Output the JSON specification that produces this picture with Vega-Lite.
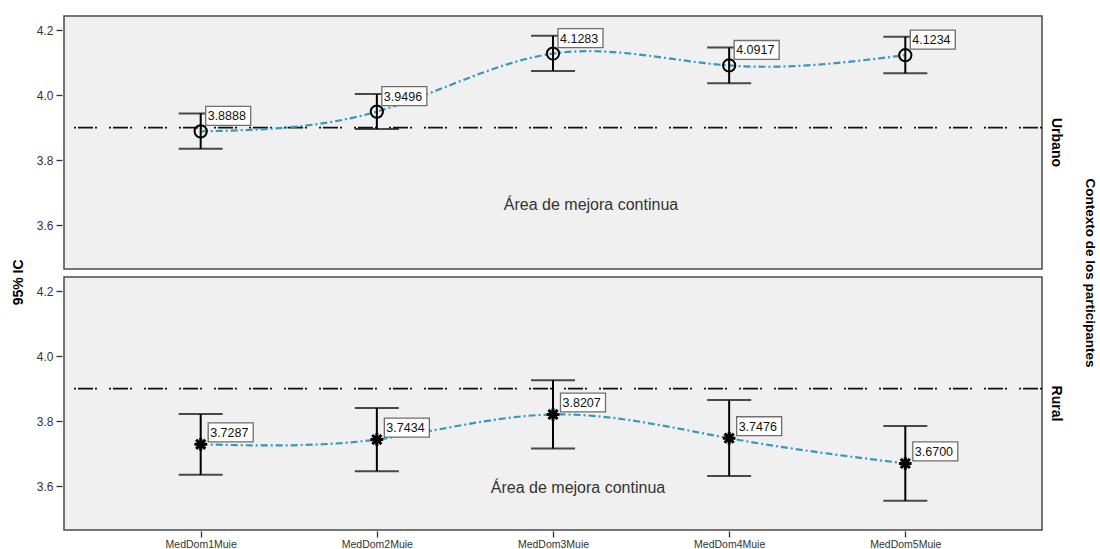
{
  "$schema": "https://vega.github.io/schema/vega-lite/v6.json",
  "padding": {"left": 12, "top": 15, "right": 0, "bottom": 0},
  "title": {"text": "95% IC", "orient": "left", "anchor": "middle", "fontSize": 14, "font": "Liberation Sans", "fontWeight": "bold", "color": "#000", "offset": 10},
  "data": {"values": [
    {"kind": "pt", "ctx": "Urbano", "cat": "MedDom1Muie", "mean": 3.8888, "lo": 3.835, "hi": 3.944, "lab": "3.8888"},
    {"kind": "pt", "ctx": "Urbano", "cat": "MedDom2Muie", "mean": 3.9496, "lo": 3.896, "hi": 4.004, "lab": "3.9496"},
    {"kind": "pt", "ctx": "Urbano", "cat": "MedDom3Muie", "mean": 4.1283, "lo": 4.075, "hi": 4.183, "lab": "4.1283"},
    {"kind": "pt", "ctx": "Urbano", "cat": "MedDom4Muie", "mean": 4.0917, "lo": 4.037, "hi": 4.147, "lab": "4.0917"},
    {"kind": "pt", "ctx": "Urbano", "cat": "MedDom5Muie", "mean": 4.1234, "lo": 4.068, "hi": 4.180, "lab": "4.1234"},
    {"kind": "pt", "ctx": "Rural", "cat": "MedDom1Muie", "mean": 3.7287, "lo": 3.635, "hi": 3.822, "lab": "3.7287"},
    {"kind": "pt", "ctx": "Rural", "cat": "MedDom2Muie", "mean": 3.7434, "lo": 3.646, "hi": 3.841, "lab": "3.7434"},
    {"kind": "pt", "ctx": "Rural", "cat": "MedDom3Muie", "mean": 3.8207, "lo": 3.716, "hi": 3.926, "lab": "3.8207"},
    {"kind": "pt", "ctx": "Rural", "cat": "MedDom4Muie", "mean": 3.7476, "lo": 3.631, "hi": 3.865, "lab": "3.7476"},
    {"kind": "pt", "ctx": "Rural", "cat": "MedDom5Muie", "mean": 3.6700, "lo": 3.555, "hi": 3.785, "lab": "3.6700"},
    {"kind": "ref", "ctx": "Urbano", "ref": 3.9},
    {"kind": "ref", "ctx": "Rural", "ref": 3.9},
    {"kind": "txt", "ctx": "Urbano", "cat": "MedDom3Muie", "ty": 3.663, "note": "Área de mejora continua"},
    {"kind": "txt", "ctx": "Rural", "cat": "MedDom3Muie", "ty": 3.594, "note": "Área de mejora continua"}
  ]},
  "facet": {"row": {"field": "ctx", "type": "nominal", "sort": ["Urbano", "Rural"], "title": "Contexto de los participantes",
    "header": {"labelOrient": "right", "titleOrient": "right", "labelAngle": 90, "titleAngle": 90, "labelFontSize": 14, "labelFontWeight": "bold", "labelFont": "Liberation Sans", "labelColor": "#000", "titleFontSize": 13.5, "titleFontWeight": "bold", "titleFont": "Liberation Sans", "titleColor": "#000", "labelPadding": 5, "titlePadding": 10}}},
  "spacing": 6,
  "spec": {
    "width": 978,
    "height": 253,
    "encoding": {
      "x": {"field": "cat", "type": "ordinal", "scale": {"type": "point", "padding": 0.776, "domain": ["MedDom1Muie", "MedDom2Muie", "MedDom3Muie", "MedDom4Muie", "MedDom5Muie"]}}
    },
    "layer": [
      {"transform": [{"filter": "datum.kind === 'ref'"}],
       "mark": {"type": "rule", "color": "#111", "strokeWidth": 1.8, "strokeDash": [2, 2, 15, 2, 2, 12]},
       "encoding": {"x": null, "y": {"field": "ref", "type": "quantitative", "scale": {"domain": [3.465, 4.244], "nice": false, "zero": false}, "axis": {"values": [3.6, 3.8, 4.0, 4.2], "format": ".1f"}}}},
      {"transform": [{"filter": "datum.kind === 'pt'"}],
       "mark": {"type": "line", "interpolate": "natural", "color": "#3399bf", "strokeWidth": 2.2, "strokeDash": [7, 3, 2, 3]},
       "encoding": {
         "y": {"field": "mean", "type": "quantitative", "scale": {"domain": [3.465, 4.244], "nice": false, "zero": false}, "axis": {"values": [3.6, 3.8, 4.0, 4.2], "format": ".1f"}}}},
      {"transform": [{"filter": "datum.kind === 'pt'"}],
       "mark": {"type": "rule", "color": "#000", "strokeWidth": 2},
       "encoding": {
         "y": {"field": "lo", "type": "quantitative", "scale": {"domain": [3.465, 4.244], "nice": false, "zero": false}},
         "y2": {"field": "hi"}}},
      {"transform": [{"filter": "datum.kind === 'pt'"}],
       "mark": {"type": "tick", "color": "#000", "size": 44, "thickness": 2, "orient": "horizontal"},
       "encoding": {
         "y": {"field": "lo", "type": "quantitative", "scale": {"domain": [3.465, 4.244], "nice": false, "zero": false}}}},
      {"transform": [{"filter": "datum.kind === 'pt'"}],
       "mark": {"type": "tick", "color": "#000", "size": 44, "thickness": 2, "orient": "horizontal"},
       "encoding": {
         "y": {"field": "hi", "type": "quantitative", "scale": {"domain": [3.465, 4.244], "nice": false, "zero": false}}}},
      {"transform": [{"filter": "datum.kind === 'pt' && datum.ctx === 'Urbano'"}],
       "mark": {"type": "point", "shape": "circle", "filled": false, "color": "#000", "strokeWidth": 2, "size": 150, "opacity": 1},
       "encoding": {
         "y": {"field": "mean", "type": "quantitative", "scale": {"domain": [3.465, 4.244], "nice": false, "zero": false}}}},
      {"transform": [{"filter": "datum.kind === 'pt' && datum.ctx === 'Rural'"}],
       "mark": {"type": "point", "shape": "M-1,0L1,0M0,-1L0,1M-0.72,-0.72L0.72,0.72M-0.72,0.72L0.72,-0.72", "filled": false, "color": "#000", "strokeWidth": 3, "size": 160, "opacity": 1},
       "encoding": {
         "y": {"field": "mean", "type": "quantitative", "scale": {"domain": [3.465, 4.244], "nice": false, "zero": false}}}},
      {"transform": [{"filter": "datum.kind === 'pt' && datum.ctx === 'Urbano'"}],
       "mark": {"type": "point", "shape": "M-1,-0.42L1,-0.42L1,0.42L-1,0.42Z", "filled": true, "fill": "#fff", "stroke": "#6e6e6e", "strokeWidth": 1.3, "size": 2025, "opacity": 1, "fillOpacity": 1, "xOffset": 27.5, "yOffset": -15.5},
       "encoding": {
         "y": {"field": "mean", "type": "quantitative", "scale": {"domain": [3.465, 4.244], "nice": false, "zero": false}}}},
      {"transform": [{"filter": "datum.kind === 'pt' && datum.ctx === 'Rural'"}],
       "mark": {"type": "point", "shape": "M-1,-0.42L1,-0.42L1,0.42L-1,0.42Z", "filled": true, "fill": "#fff", "stroke": "#6e6e6e", "strokeWidth": 1.3, "size": 2025, "opacity": 1, "fillOpacity": 1, "xOffset": 30, "yOffset": -12},
       "encoding": {
         "y": {"field": "mean", "type": "quantitative", "scale": {"domain": [3.465, 4.244], "nice": false, "zero": false}}}},
      {"transform": [{"filter": "datum.kind === 'pt' && datum.ctx === 'Urbano'"}],
       "mark": {"type": "text", "align": "left", "baseline": "middle", "font": "Liberation Sans", "fontSize": 12.5, "color": "#111", "xOffset": 7, "yOffset": -15},
       "encoding": {
         "y": {"field": "mean", "type": "quantitative", "scale": {"domain": [3.465, 4.244], "nice": false, "zero": false}},
         "text": {"field": "lab"}}},
      {"transform": [{"filter": "datum.kind === 'pt' && datum.ctx === 'Rural'"}],
       "mark": {"type": "text", "align": "left", "baseline": "middle", "font": "Liberation Sans", "fontSize": 12.5, "color": "#111", "xOffset": 9.5, "yOffset": -11.5},
       "encoding": {
         "y": {"field": "mean", "type": "quantitative", "scale": {"domain": [3.465, 4.244], "nice": false, "zero": false}},
         "text": {"field": "lab"}}},
      {"transform": [{"filter": "datum.kind === 'txt' && datum.ctx === 'Urbano'"}],
       "mark": {"type": "text", "align": "center", "baseline": "middle", "font": "Liberation Sans", "fontSize": 16, "color": "#333", "xOffset": 38},
       "encoding": {
         "y": {"field": "ty", "type": "quantitative", "scale": {"domain": [3.465, 4.244], "nice": false, "zero": false}},
         "text": {"field": "note"}}},
      {"transform": [{"filter": "datum.kind === 'txt' && datum.ctx === 'Rural'"}],
       "mark": {"type": "text", "align": "center", "baseline": "middle", "font": "Liberation Sans", "fontSize": 16, "color": "#333", "xOffset": 25},
       "encoding": {
         "y": {"field": "ty", "type": "quantitative", "scale": {"domain": [3.465, 4.244], "nice": false, "zero": false}},
         "text": {"field": "note"}}}
    ]
  },
  "resolve": {"scale": {"x": "shared", "y": "shared"}},
  "config": {
    "font": "Liberation Sans",
    "view": {"fill": "#f0f0f0", "stroke": "#4a4a4a", "strokeWidth": 1.5},
    "axis": {"grid": false, "domain": false, "tickColor": "#333", "tickSize": 6, "tickWidth": 1.3, "labelColor": "#333", "labelFont": "Liberation Sans", "labelPadding": 3, "title": null},
    "axisY": {"labelFontSize": 12},
    "axisX": {"labelFontSize": 10.5, "labelAngle": 0, "labelPadding": 2}
  }
}
